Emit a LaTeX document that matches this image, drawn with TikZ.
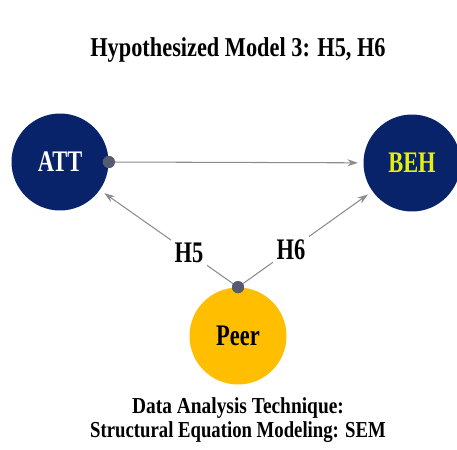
\documentclass[tikz,border=0pt]{standalone}
\usepackage{fontspec}
\setmainfont{Liberation Serif}
\usepackage{graphicx}
\usetikzlibrary{arrows.meta}
\definecolor{navy}{RGB}{8,35,105}
\definecolor{peergold}{RGB}{255,190,0}
\definecolor{behyellow}{RGB}{228,240,10}
\definecolor{dotgray}{RGB}{85,90,110}
\definecolor{linegray}{RGB}{140,140,140}
\newcommand{\narrowtxt}[2][0.75]{\scalebox{#1}[1]{#2}}
\tikzset{
    construct/.style={circle,minimum size=1.94cm,inner sep=0pt,font=\fontsize{17}{18}\selectfont\bfseries},
    joint/.style={circle,fill=dotgray,minimum size=0.24cm,inner sep=0pt},
    hypo/.style={draw=linegray,line width=0.6pt,-{Stealth[length=6pt,width=4pt]},shorten >=3pt},
    hlabel/.style={fill=white,inner sep=2pt,font=\fontsize{17}{18}\selectfont\bfseries},
    caption/.style={align=center,font=\fontsize{13}{13}\selectfont\bfseries}
}
\begin{document}
\begin{tikzpicture}[x=0.02cm,y=-0.02cm]
    \useasboundingbox (0,0) rectangle (457,450);
    \node[font=\fontsize{15.5}{16}\selectfont\bfseries] (title) at (238,50) {\narrowtxt[0.82]{Hypothesized Model 3: H5, H6}};
    % constructs
    \node[construct,fill=navy,text=white] (att) at (60,162) {\narrowtxt{ATT}};
    \node[construct,fill=navy,text=behyellow] (beh) at (412,163) {\narrowtxt{BEH}};
    \node[construct,fill=peergold,text=black] (peer) at (238,336) {\narrowtxt{Peer}};
    \node[joint] (attdot) at (att.east) {};
    \node[joint] (peerdot) at (peer.north) {};
    % paths
    \draw[hypo] (attdot) -- (beh);
    \draw[hypo] (peerdot) -- node[hlabel,pos=0.33] (h5) {\narrowtxt{H5}} (att);
    \draw[hypo] (peerdot) -- node[hlabel,pos=0.37] (h6) {\narrowtxt{H6}} (beh);
    \node[joint] at (attdot) {};
    \node[joint] at (peerdot) {};
    \node[caption] (method) at (238,420) {\narrowtxt[0.85]{Data Analysis Technique:}\\[1pt]\narrowtxt[0.82]{Structural Equation Modeling: SEM}};
\end{tikzpicture}
\end{document}
